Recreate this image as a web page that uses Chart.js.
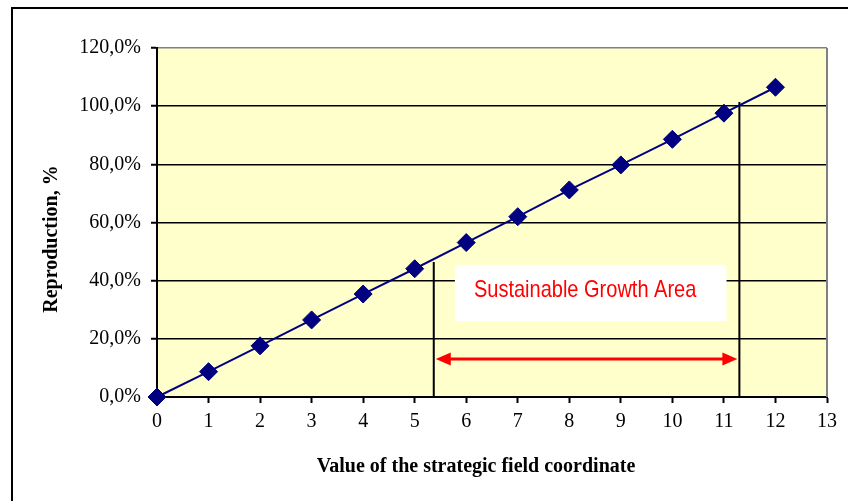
<!DOCTYPE html>
<html>
<head>
<meta charset="utf-8">
<script src="https://cdn.jsdelivr.net/npm/chart.js@4.4.1/dist/chart.umd.min.js"></script>
<style>
  html, body { margin: 0; padding: 0; background: #fff; }
  canvas { display: block; }
</style>
</head>
<body>
<canvas id="growthChart" width="848" height="501"></canvas>
<script>
// strategic field coordinate vs. reproduction
const xValues = [0, 1, 2, 3, 4, 5, 6, 7, 8, 9, 10, 11, 12];
const reproduction = [0, 8.7, 17.6, 26.5, 35.4, 44.1, 53.1, 62.0, 71.2, 79.8, 88.6, 97.6, 106.5];
const xTickLabels = ['0', '1', '2', '3', '4', '5', '6', '7', '8', '9', '10', '11', '12', '13'];
const yTickLabels = ['0,0%', '20,0%', '40,0%', '60,0%', '80,0%', '100,0%', '120,0%'];

// sustainable growth area, in axis units
const areaStart = 5.37, areaStartTop = 46.4;
const areaEnd = 11.3, areaEndTop = 101.4;
const arrowLevel = 13.1;
const boxLeft = 5.78, boxRight = 11.05, boxTop = 45.4, boxBottom = 26.1;
const labelX = 6.15, labelY = 34.4;
const areaLabel = 'Sustainable Growth Area';

const points = xValues.map((x, i) => ({ x: x, y: reproduction[i] }));

const backdrop = {
  id: 'backdrop',
  beforeDraw(chart) {
    const ctx = chart.ctx;
    const a = chart.chartArea;
    ctx.save();
    ctx.fillStyle = '#ffffff';
    ctx.fillRect(0, 0, chart.width, chart.height);
    // outer frame
    ctx.strokeStyle = '#000';
    ctx.lineWidth = 2;
    ctx.beginPath();
    ctx.moveTo(12, chart.height);
    ctx.lineTo(12, 8);
    ctx.lineTo(chart.width, 8);
    ctx.stroke();
    ctx.fillStyle = '#ffffcc';
    ctx.fillRect(a.left, a.top, a.right - a.left, a.bottom - a.top);
    ctx.restore();
  }
};

const growthArea = {
  id: 'growthArea',
  beforeDatasetsDraw(chart) {
    const ctx = chart.ctx;
    const xs = chart.scales.x, ys = chart.scales.y;
    const a = chart.chartArea;
    ctx.save();
    // right edge of plot
    ctx.strokeStyle = '#808080';
    ctx.lineWidth = 2;
    ctx.beginPath();
    ctx.moveTo(a.right, a.top);
    ctx.lineTo(a.right, a.bottom);
    ctx.stroke();

    // white label box
    const bl = xs.getPixelForValue(boxLeft), br = xs.getPixelForValue(boxRight);
    const bt = ys.getPixelForValue(boxTop), bb = ys.getPixelForValue(boxBottom);
    ctx.fillStyle = '#ffffff';
    ctx.fillRect(bl, bt, br - bl, bb - bt);

    // boundary lines
    ctx.strokeStyle = '#000';
    ctx.lineWidth = 2;
    ctx.beginPath();
    ctx.moveTo(xs.getPixelForValue(areaStart), ys.getPixelForValue(0));
    ctx.lineTo(xs.getPixelForValue(areaStart), ys.getPixelForValue(areaStartTop));
    ctx.moveTo(xs.getPixelForValue(areaEnd), ys.getPixelForValue(0));
    ctx.lineTo(xs.getPixelForValue(areaEnd), ys.getPixelForValue(areaEndTop));
    ctx.stroke();

    // double-headed arrow
    const x1 = xs.getPixelForValue(areaStart) + 2;
    const x2 = xs.getPixelForValue(areaEnd) - 2;
    const ay = ys.getPixelForValue(arrowLevel);
    ctx.strokeStyle = '#ff0000';
    ctx.fillStyle = '#ff0000';
    ctx.lineWidth = 3;
    ctx.beginPath();
    ctx.moveTo(x1 + 10, ay);
    ctx.lineTo(x2 - 10, ay);
    ctx.stroke();
    ctx.beginPath();
    ctx.moveTo(x1, ay);
    ctx.lineTo(x1 + 15, ay - 6.5);
    ctx.lineTo(x1 + 15, ay + 6.5);
    ctx.closePath();
    ctx.moveTo(x2, ay);
    ctx.lineTo(x2 - 15, ay - 6.5);
    ctx.lineTo(x2 - 15, ay + 6.5);
    ctx.closePath();
    ctx.fill();

    // area label
    ctx.translate(xs.getPixelForValue(labelX), ys.getPixelForValue(labelY));
    ctx.scale(1, 1.18);
    ctx.font = '20px "Liberation Sans", Arial, sans-serif';
    ctx.textAlign = 'left';
    ctx.textBaseline = 'alphabetic';
    ctx.fillText(areaLabel, 0, 0);
    ctx.restore();
  }
};

const axisTitles = {
  id: 'axisTitles',
  afterDraw(chart) {
    const ctx = chart.ctx;
    ctx.save();
    ctx.fillStyle = '#000';
    ctx.font = 'bold 20px "Liberation Serif", "Times New Roman", serif';
    ctx.textAlign = 'center';
    ctx.textBaseline = 'alphabetic';
    ctx.fillText('Value of the strategic field coordinate', 476, 472);
    ctx.translate(57, 239);
    ctx.rotate(-Math.PI / 2);
    ctx.fillText('Reproduction, %', 0, 0);
    ctx.restore();
  }
};

const tickFont = { family: '"Liberation Serif", "Times New Roman", serif', size: 20 };

const ctx = document.getElementById('growthChart').getContext('2d');
const chart = new Chart(ctx, {
  type: 'line',
  data: {
    datasets: [{
      data: points,
      borderColor: '#000080',
      backgroundColor: '#000080',
      borderWidth: 2,
      pointStyle: 'rectRot',
      pointRadius: 9,
      pointBorderWidth: 1,
      pointBorderColor: '#000080',
      pointBackgroundColor: '#000080',
      tension: 0,
      clip: false
    }]
  },
  options: {
    responsive: false,
    animation: false,
    events: [],
    layout: {
      padding: { top: 48, right: 21, bottom: 0, left: 0 }
    },
    plugins: {
      legend: { display: false },
      tooltip: { enabled: false }
    },
    scales: {
      x: {
        type: 'linear',
        min: 0,
        max: 13,
        afterFit: (scale) => { scale.height = 104; },
        ticks: {
          stepSize: 1,
          autoSkip: false,
          maxRotation: 0,
          color: '#000',
          font: tickFont,
          padding: 7,
          callback: (value) => xTickLabels[value]
        },
        grid: {
          drawOnChartArea: false,
          drawTicks: true,
          tickLength: 6,
          tickColor: '#000',
          tickWidth: 2
        },
        border: { color: '#000', width: 2 }
      },
      y: {
        min: 0,
        max: 120,
        afterFit: (scale) => { scale.width = 157; },
        ticks: {
          stepSize: 20,
          color: '#000',
          font: tickFont,
          padding: 10,
          callback: (value) => yTickLabels[value / 20]
        },
        grid: {
          color: (c) => (c.tick && c.tick.value === 120 ? '#808080' : '#000'),
          lineWidth: 1.5,
          drawTicks: true,
          tickLength: 6,
          tickColor: '#000',
          tickWidth: 2
        },
        border: { color: '#000', width: 2 }
      }
    }
  },
  plugins: [backdrop, growthArea, axisTitles]
});
</script>
</body>
</html>
